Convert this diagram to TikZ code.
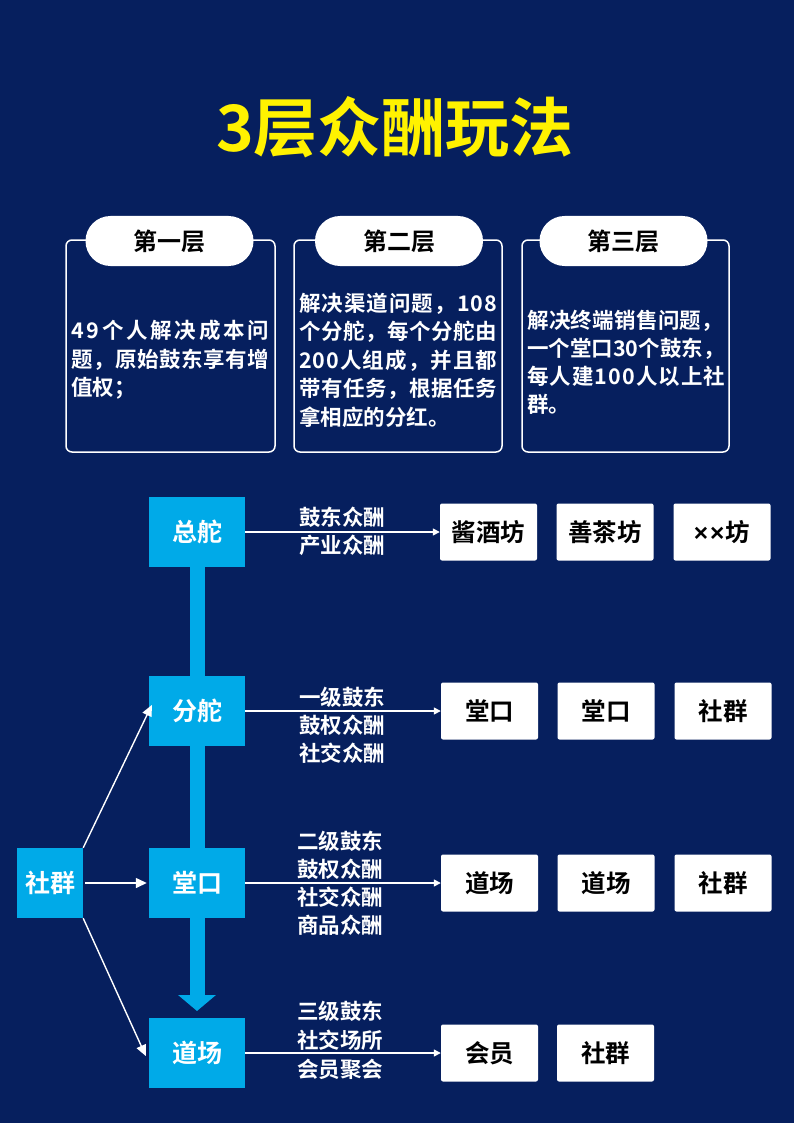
\documentclass[tikz,border=0pt]{standalone}
\usepackage{fontspec}
\setmainfont{Noto Sans CJK SC}[BoldFont={Noto Sans CJK SC Bold}]
\newfontfamily\latf{Liberation Sans}
\usetikzlibrary{arrows.meta,backgrounds}
\definecolor{bg}{RGB}{6,31,94}
\definecolor{sky}{RGB}{0,170,232}
\definecolor{ttl}{RGB}{255,242,0}
\def\s{\hfil}
\begin{document}
\begin{tikzpicture}[x=1pt,y=-1pt,
  panel/.style={draw=white, line width=1.5pt, rounded corners=6pt, inner sep=0pt},
  tab/.style={fill=white, rounded corners=25pt, minimum width=168pt, minimum height=50pt, inner sep=0pt,
    font=\bfseries\fontsize{24}{24}\selectfont, text=black},
  desc/.style={anchor=west, align=left, inner sep=0pt, text=white, font=\bfseries\fontsize{21.5}{28.5}\selectfont},
  bluebox/.style={fill=sky, minimum width=96pt, minimum height=70pt, inner sep=0pt, text=white,
    font=\bfseries\fontsize{25}{25}\selectfont},
  whitebox/.style={fill=white, rounded corners=2pt, minimum width=97pt, minimum height=57pt, inner sep=0pt,
    text=black, font=\bfseries\fontsize{24.5}{24.5}\selectfont},
  lbl/.style={align=center, inner sep=0pt, text=white, font=\bfseries\fontsize{21.5}{28}\selectfont},
  thin/.style={draw=white, line width=1.4pt, -{Triangle[length=7pt,width=7pt]}},
  feed/.style={draw=white, line width=1.4pt, -{Triangle[length=11pt,width=10pt]}},
  bar/.style={draw=sky, line width=15pt, -{Triangle[length=16pt,width=37pt]}}
]
\useasboundingbox (0,0) rectangle (794,1123);
\begin{scope}[on background layer]
\fill[bg] (0,0) rectangle (794,1123);
\end{scope}

\node[text=ttl, inner sep=0pt, font=\bfseries\fontsize{64}{64}\selectfont] (title) at (395,127) {3层众酬玩法};

% panels
\node[panel, minimum width=209pt, minimum height=212pt] (p1) at (170.5,346) {};
\node[panel, minimum width=208pt, minimum height=212pt] (p2) at (398,346) {};
\node[panel, minimum width=207pt, minimum height=212pt] (p3) at (625.5,346) {};
\node[tab] (t1) at (169.5,241) {第一层};
\node[tab] (t2) at (399,241) {第二层};
\node[tab] (t3) at (623.5,241) {第三层};

\node[desc] (d1) at (71,360) {%
\makebox[198pt][s]{4\s 9\s 个\s 人\s 解\s 决\s 成\s 本\s 问}\\
\makebox[198pt][s]{题\s ，\s 原\s 始\s 鼓\s 东\s 享\s 有\s 增}\\
值权；};
\node[desc] (d2) at (299,360) {%
\makebox[198pt][s]{解\s 决\s 渠\s 道\s 问\s 题\s ，\s 1\s 0\s 8}\\
\makebox[198pt][s]{个\s 分\s 舵\s ，\s 每\s 个\s 分\s 舵\s 由}\\
\makebox[198pt][s]{2\s 0\s 0\s 人\s 组\s 成\s ，\s 并\s 且\s 都}\\
\makebox[198pt][s]{带\s 有\s 任\s 务\s ，\s 根\s 据\s 任\s 务}\\
拿相应的分红。};
\node[desc, font=\bfseries\fontsize{21.5}{28}\selectfont] (d3) at (527,362) {%
\makebox[196pt][s]{解\s 决\s 终\s 端\s 销\s 售\s 问\s 题\s ，}\\
\makebox[196pt][s]{一\s 个\s 堂\s 口\s 3\s 0\s 个\s 鼓\s 东\s ，}\\
\makebox[198pt][s]{每\s 人\s 建\s 1\s 0\s 0\s 人\s 以\s 上\s 社}\\
群。};

% flow
\node[bluebox] (zd) at (197,532) {总舵};
\node[bluebox] (fd) at (197,711) {分舵};
\node[bluebox] (tk) at (197,883) {堂口};
\node[bluebox] (dc) at (197,1053) {道场};
\node[bluebox, minimum width=66pt] (sq) at (50,883) {社群};
\coordinate (tip) at (197,1011);
\begin{scope}[on background layer]
\draw[bar] (zd.south) -- (tip);
\end{scope}

\node[whitebox] (r11) at (488.5,532) {酱酒坊};
\node[whitebox] (r12) at (605,532) {善茶坊};
\node[whitebox] (r13) at (722,532) {{\latf\bfseries ×\kern2pt×}\kern1pt坊};
\node[whitebox] (r21) at (489.5,711) {堂口};
\node[whitebox] (r22) at (606,711) {堂口};
\node[whitebox] (r23) at (723,711) {社群};
\node[whitebox] (r31) at (489.5,883) {道场};
\node[whitebox] (r32) at (606,883) {道场};
\node[whitebox] (r33) at (723,883) {社群};
\node[whitebox] (r41) at (489.5,1053) {会员};
\node[whitebox] (r42) at (605.5,1053) {社群};

\draw[thin] (zd.east) -- (r11.west);
\draw[thin] (fd.east) -- (r21.west);
\draw[thin] (tk.east) -- (r31.west);
\draw[thin] (dc.east) -- (r41.west);

\node[lbl] (l1) at (342,531) {鼓东众酬\\产业众酬};
\node[lbl] (l2) at (342,725) {一级鼓东\\鼓权众酬\\社交众酬};
\node[lbl] (l3) at (340,883) {二级鼓东\\鼓权众酬\\社交众酬\\商品众酬};
\node[lbl, font=\bfseries\fontsize{21.5}{29}\selectfont] (l4) at (340,1040) {三级鼓东\\社交场所\\会员聚会};

\draw[feed] (sq.north east) -- ([xshift=3pt,yshift=6pt]fd.west);
\draw[feed] ([xshift=2pt]sq.east) -- ([xshift=-2pt]tk.west);
\draw[feed] (sq.south east) -- ([xshift=-3pt,yshift=-3pt]dc.west);
\end{tikzpicture}
\end{document}
